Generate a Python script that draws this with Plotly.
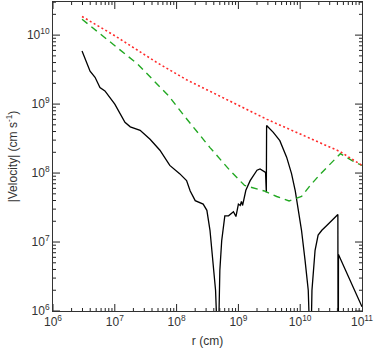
import math
import plotly.graph_objects as go

# radius (cm) and |velocity| (cm/s)
r_black = [2.95e6, 3.55e6, 3.98e6, 4.79e6, 5.75e6, 6.92e6, 1.0e7, 1.46e7, 1.78e7, 2.57e7,
           3.72e7, 5.37e7, 7.76e7, 1.12e8, 1.45e8, 1.66e8, 2.0e8, 2.69e8, 3.09e8, 3.47e8,
           3.89e8, 4.27e8, 4.52e8, 4.62e8, 4.79e8, 4.90e8, 5.01e8, 5.37e8, 6.03e8, 6.92e8,
           7.76e8, 8.32e8, 9.12e8, 1.0e9, 1.07e9, 1.12e9, 1.17e9, 1.32e9, 1.55e9, 2.0e9,
           2.24e9, 2.75e9, 2.83e9, 2.86e9, 3.67e9, 4.68e9, 6.03e9, 7.24e9, 8.32e9, 9.33e9,
           1.05e10, 1.20e10, 1.35e10, 1.43e10, 1.46e10, 1.50e10, 1.55e10, 1.62e10, 1.74e10, 1.95e10,
           2.24e10, 2.69e10, 3.24e10, 3.63e10, 4.07e10, 4.12e10, 4.16e10, 1.0e11]
v_black = [5.9e9, 3.8e9, 3.0e9, 2.45e9, 1.74e9, 1.55e9, 1.0e9, 5.43e8, 4.68e8, 4.17e8,
           3.09e8, 2.14e8, 1.29e8, 9.8e7, 7.76e7, 5.5e7, 3.98e7, 3.55e7, 2.88e7, 1.48e7,
           5.37e6, 2.0e6, 5.0e5, 1e4, 5.0e5, 2.0e6, 3.9e6, 1.05e7, 2.4e7, 2.4e7,
           2.63e7, 2.75e7, 2.34e7, 3.55e7, 3.39e7, 3.89e7, 3.39e7, 5.62e7, 7.76e7, 1.10e8,
           1.15e8, 1.02e8, 5.25e7, 4.9e8, 3.89e8, 2.95e8, 1.70e8, 9.8e7, 5.5e7, 2.88e7,
           1.48e7, 5.37e6, 2.0e6, 4.0e5, 1e4, 4.0e5, 2.0e6, 3.9e6, 7.6e6, 1.26e7,
           1.48e7, 1.74e7, 2.04e7, 2.29e7, 2.51e7, 1e4, 6.6e6, 1.15e6]

r_green = [2.95e6, 1.0e7, 2.34e7, 7.41e7, 1.38e8, 3.47e8, 7.24e8, 1.26e9, 2.63e9, 4.17e9,
           6.61e9, 1.05e10, 1.45e10, 2.09e10, 3.02e10, 4.47e10, 6.92e10, 1.0e11]
v_green = [1.70e10, 7.08e9, 3.80e9, 1.32e9, 6.46e8, 2.34e8, 1.10e8, 6.6e7, 5.5e7, 4.57e7,
           3.94e7, 4.57e7, 6.6e7, 9.55e7, 1.32e8, 1.91e8, 1.51e8, 1.29e8]

r_red = [2.95e6, 1.0e7, 4.8e7, 1.45e8, 2.9e9, 1.0e10, 4.4e10, 1.0e11]
v_red = [1.86e10, 9.8e9, 4.0e9, 2.25e9, 6.0e8, 3.7e8, 2.05e8, 1.29e8]

x_decades = [6, 7, 8, 9, 10, 11]
y_decades = [6, 7, 8, 9, 10]
x_range = [6, 11]
y_range = [6, 10.48]

TICK_COLOR = '#222'
MAJOR_LEN = 7
MINOR_LEN = 3


def decade_ticks(exps, rng):
    major = [10.0 ** e for e in exps]
    labels = ['10<sup>%d</sup>' % e for e in exps]
    minor = [m * 10.0 ** e for e in exps for m in range(2, 10)
             if math.log10(m * 10.0 ** e) <= rng[1]]
    return major, labels, minor


def tick_shapes(vals, length, axis):
    """Inside ticks on both sides of the box (IDL style), drawn as pixel-sized lines."""
    shapes = []
    line = dict(color=TICK_COLOR, width=1)
    for v in vals:
        if axis == 'x':
            for anchor, sign in ((0, 1), (1, -1)):
                shapes.append(dict(type='line', xref='x', yref='paper', x0=v, x1=v,
                                   ysizemode='pixel', yanchor=anchor, y0=0, y1=sign * length,
                                   line=line, layer='above'))
        else:
            for anchor, sign in ((0, 1), (1, -1)):
                shapes.append(dict(type='line', xref='paper', yref='y', y0=v, y1=v,
                                   xsizemode='pixel', xanchor=anchor, x0=0, x1=sign * length,
                                   line=line, layer='above'))
    return shapes


fig = go.Figure()
fig.add_trace(go.Scatter(x=r_black, y=v_black, mode='lines',
                         line=dict(color='black', width=1.3)))
fig.add_trace(go.Scatter(x=r_green, y=v_green, mode='lines',
                         line=dict(color='#22a822', width=1.4, dash='7px,5px')))
fig.add_trace(go.Scatter(x=r_red, y=v_red, mode='lines',
                         line=dict(color='#ff2a2a', width=1.6, dash='2px,2.5px')))

xt, xl, xm = decade_ticks(x_decades, x_range)
yt, yl, ym = decade_ticks(y_decades, y_range)

axis_style = dict(
    type='log', automargin=False, showgrid=False, zeroline=False, ticks='',
    showline=True, linecolor='#333', linewidth=1, mirror=True,
    tickfont=dict(size=12, color='#333'),
)

fig.update_xaxes(range=x_range, tickmode='array', tickvals=xt, ticktext=xl,
                 title=dict(text='r (cm)', standoff=8, font=dict(size=12, color='#333')),
                 **axis_style)
fig.update_yaxes(range=y_range, tickmode='array', tickvals=yt, ticktext=yl,
                 title=dict(text='|Velocity| (cm s<sup>-1</sup>)', standoff=6,
                            font=dict(size=12, color='#333')),
                 **axis_style)

shapes = (tick_shapes([v for v in xt if v < 10 ** x_range[1]], MAJOR_LEN, 'x')
          + tick_shapes(xm, MINOR_LEN, 'x')
          + tick_shapes(yt, MAJOR_LEN, 'y')
          + tick_shapes(ym, MINOR_LEN, 'y'))

fig.update_layout(
    width=374, height=349,
    margin=dict(l=53, r=12, t=2, b=38),
    paper_bgcolor='white', plot_bgcolor='white',
    showlegend=False,
    shapes=shapes,
    font=dict(family='Liberation Sans, Arial, sans-serif', color='#333'),
)

# the page's default body margin would shift the figure by 8px
fig.write_html("out.html", config={'displayModeBar': False},
               post_script="document.body.style.margin='0';")
